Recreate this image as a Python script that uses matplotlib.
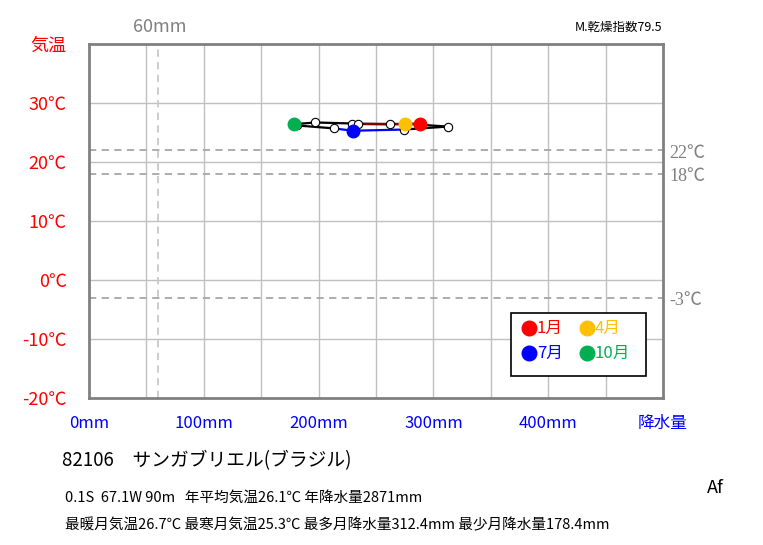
import matplotlib
matplotlib.use("Agg")
from matplotlib import pyplot as plt
from matplotlib.patches import Rectangle

plt.rcParams['font.family'] = ['Noto Sans CJK JP', 'DejaVu Sans']

# monthly climate values (Jan..Dec)
months = ["1月", "2月", "3月", "4月", "5月", "6月", "7月", "8月", "9月", "10月", "11月", "12月"]
precip = [288, 262, 229, 275, 312.4, 274, 230, 213, 181, 178.4, 197, 234]
temp = [26.5, 26.4, 26.5, 26.5, 26.0, 25.5, 25.3, 25.7, 26.2, 26.4, 26.7, 26.5]

# highlighted months in the legend
key_months = [0, 3, 6, 9]
key_colors = ["#ff0000", "#ffc000", "#0000ff", "#00b050"]

# reference lines
temp_lines = [22, 18, -3]
temp_line_labels = ["22℃", "18℃", "-3℃"]
dry_precip = 60

xticks = [0, 100, 200, 300, 400, 500]
xticklabels = ["0mm", "100mm", "200mm", "300mm", "400mm", "降水量"]
yticks = [-20, -10, 0, 10, 20, 30, 40]
yticklabels = ["-20℃", "-10℃", "0℃", "10℃", "20℃", "30℃", "気温"]

W, H = 763, 545
fig = plt.figure(figsize=(W / 100, H / 100), dpi=100)
left, right, top, bottom = 89, 663, 44, 398
ax = fig.add_axes([left / W, 1 - bottom / H, (right - left) / W, (bottom - top) / H])
ax.set_xlim(0, 500)
ax.set_ylim(-20, 40)


def px(x, y):
    return x / W, 1 - y / H


# grid
for gx in range(50, 500, 50):
    ax.axvline(gx, color="#c0c0c0", lw=1, zorder=1)
for gy in range(-10, 40, 10):
    ax.axhline(gy, color="#c0c0c0", lw=1, zorder=1)

for t in temp_lines:
    ax.axhline(t, color="#a6a6a6", lw=1.3, ls=(0, (4, 3)), zorder=2)
ax.axvline(dry_precip, color="#c8c8c8", lw=1.3, ls=(0, (4, 3)), zorder=2)

for s in ax.spines.values():
    s.set_color("#808080")
    s.set_linewidth(2)

ax.set_xticks(xticks)
ax.set_xticklabels(xticklabels, color="#0000ff", fontsize=12)
ax.set_yticks(yticks)
ax.set_yticklabels(yticklabels, color="#ff0000", fontsize=13)
ax.tick_params(axis="x", length=0, pad=12)
ax.tick_params(axis="y", length=0, pad=16)

# monthly path, Dec-Feb dark red, Jun-Aug blue
for i in range(12):
    j = (i + 1) % 12
    if i in (11, 0):
        c = "#800000"
    elif i in (5, 6):
        c = "#0000ff"
    else:
        c = "black"
    ax.plot([precip[i], precip[j]], [temp[i], temp[j]], color=c, lw=1.6, zorder=3)

for i in range(12):
    if i not in key_months:
        ax.plot(precip[i], temp[i], "o", ms=6, mfc="white", mec="black", mew=0.8, zorder=4)
for i, c in zip(key_months, key_colors):
    ax.plot(precip[i], temp[i], "o", ms=9, mfc=c, mec=c, zorder=5)

# legend box
fig.add_artist(Rectangle(px(511, 376), 135 / W, 63 / H, transform=fig.transFigure,
                         facecolor="white", edgecolor="black", lw=1.2, zorder=10))
for k, (i, c) in enumerate(zip(key_months, key_colors)):
    cx = 529 + (k % 2) * 58
    cy = 328 + (k // 2) * 25
    fig.add_artist(plt.Line2D([cx / W], [1 - cy / H], marker="o", ms=10.5, mfc=c, mec=c,
                              transform=fig.transFigure, zorder=11))
    fig.text(*px(cx + 8, cy), months[i], color=c, fontsize=12, va="center", zorder=11)

# side labels
for t, lab in zip(temp_lines, temp_line_labels):
    yy = 281 - t * 5.9
    fig.text(*px(669, yy + 2), lab, color="#808080", fontsize=13, va="center",
             family=["Liberation Serif", "Noto Sans CJK JP"])
fig.text(*px(160, 27), "60mm", color="#808080", fontsize=13, ha="center", va="center")
fig.text(*px(662, 27), "M.乾燥指数79.5", color="black", fontsize=9, ha="right", va="center")

fig.text(*px(62, 461), "82106　サンガブリエル(ブラジル)", fontsize=13.5, va="center")
fig.text(*px(65, 498), "0.1S  67.1W 90m   年平均気温26.1℃ 年降水量2871mm", fontsize=10.5,
         va="center")
fig.text(*px(65, 525), "最暖月気温26.7℃ 最寒月気温25.3℃ 最多月降水量312.4mm 最少月降水量178.4mm",
         fontsize=10.5, va="center")
fig.text(*px(715, 488), "Af", fontsize=13, ha="center", va="center")

fig.savefig("out.png", dpi=100)
